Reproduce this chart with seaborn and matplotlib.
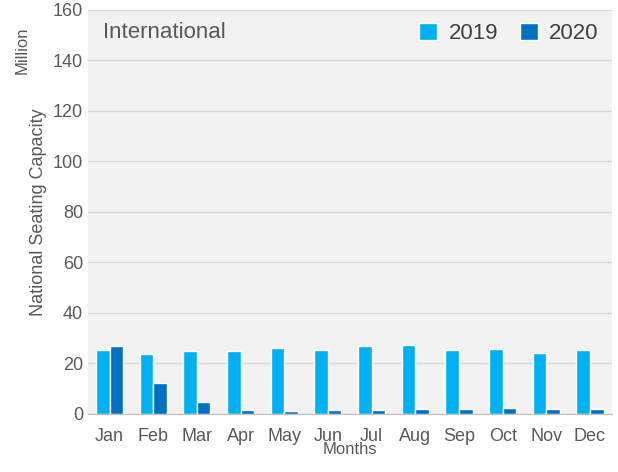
import matplotlib
matplotlib.use("Agg")
import matplotlib.pyplot as plt
import seaborn as sns
import pandas as pd

months = ["Jan","Feb","Mar","Apr","May","Jun","Jul","Aug","Sep","Oct","Nov","Dec"]
v2019 = [25.3,23.8,25.0,25.0,26.0,25.3,27.0,27.3,25.3,25.7,24.2,25.3]
v2020 = [27.0,12.3,4.8,1.5,1.2,1.5,1.5,2.0,2.0,2.5,2.0,2.0]

df = pd.DataFrame({"Month": months*2, "Value": v2019+v2020,
                   "Year": ["2019"]*12 + ["2020"]*12})

sns.set_style("white")
plt.rcParams['font.family'] = ['Liberation Sans', 'DejaVu Sans']
fig = plt.figure(figsize=(6.18, 4.72), dpi=100)
ax = fig.add_axes([0.142, 0.123, 0.848, 0.856])
ax.set_facecolor("#f2f2f2")
sns.barplot(data=df, x="Month", y="Value", hue="Year", ax=ax,
            palette=["#00b0f0", "#0070c0"], width=0.62, saturation=1, gap=0)
ax.set_ylim(0, 160)
ax.set_yticks(range(0, 161, 20))
ax.yaxis.grid(True, color="#d9d9d9", lw=1)
ax.set_axisbelow(True)
for s in ["top","right","left"]:
    ax.spines[s].set_visible(False)
ax.spines["bottom"].set_color("#bfbfbf")
ax.tick_params(axis="both", labelsize=13, colors="#595959", length=0)
ax.tick_params(axis="x", pad=10)
ax.set_xlabel("Months", fontsize=12, color="#595959", labelpad=-2)
ax.set_ylabel("National Seating Capacity", fontsize=13, color="#595959")
ax.text(-0.125, 0.96, "Million", transform=ax.transAxes, rotation=90,
        fontsize=12, color="#595959", va="top", ha="center")
ax.text(0.03, 0.97, "International", transform=ax.transAxes, fontsize=16,
        color="#595959", va="top")
leg = ax.legend(frameon=False, fontsize=16, loc="upper right", ncol=2,
                handlelength=0.8, handleheight=0.8, columnspacing=1.0,
                handletextpad=0.5, borderaxespad=0.2)
for t in leg.get_texts():
    t.set_color("#404040")
fig.savefig("out.png", dpi=100)
